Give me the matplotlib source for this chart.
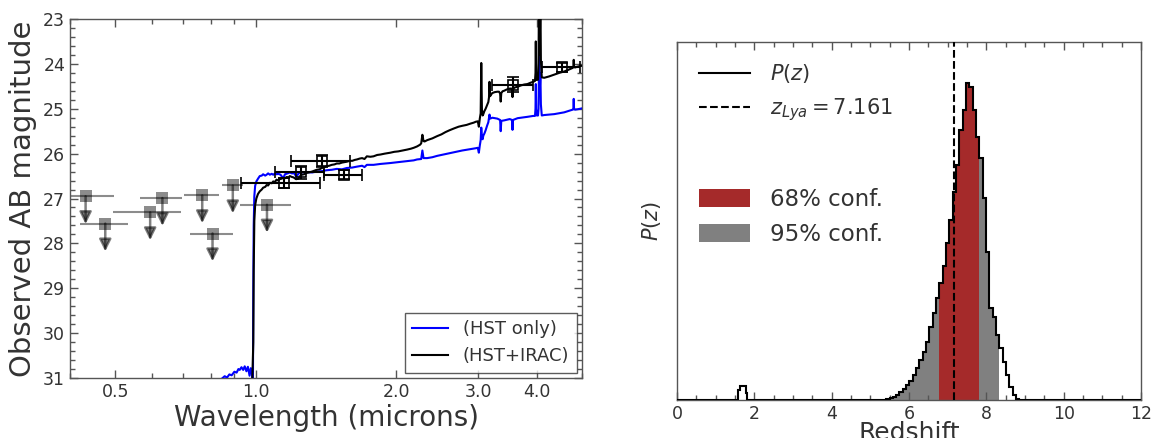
import matplotlib
matplotlib.use("Agg")
import matplotlib.pyplot as plt
from matplotlib.ticker import FixedLocator, FixedFormatter, LogLocator, NullFormatter, MultipleLocator, NullLocator
from matplotlib.lines import Line2D
from matplotlib.patches import Patch

plt.rcParams['font.family'] = ['DejaVu Sans']
plt.rcParams['mathtext.fontset'] = 'dejavusans'

TEXT = '#333333'
SPINE = '#555555'

# ---------------- SED panel ----------------
# best-fit template, HST photometry only (microns, AB mag)
hst_only_wave = [0.830, 0.845, 0.858, 0.868, 0.878, 0.888, 0.900, 0.910, 0.918, 0.924,
                 0.932, 0.940, 0.947, 0.955, 0.962, 0.970, 0.976, 0.982, 0.986, 0.988,
                 0.990, 0.993, 0.997, 1.003, 1.011, 1.020, 1.030, 1.037, 1.048, 1.055,
                 1.063, 1.072, 1.082, 1.090, 1.100, 1.108, 1.118, 1.130, 1.145, 1.155,
                 1.170, 1.183, 1.195, 1.210, 1.222, 1.235, 1.255, 1.285, 1.320, 1.351,
                 1.385, 1.419, 1.455, 1.491, 1.530, 1.567, 1.610, 1.647, 1.690, 1.710,
                 1.730, 1.788, 1.850, 1.941, 2.020, 2.110, 2.180, 2.216, 2.262, 2.275,
                 2.288, 2.329, 2.390, 2.447, 2.550, 2.657, 2.770, 2.886, 2.960, 2.990,
                 3.006, 3.020, 3.033, 3.042, 3.052, 3.063, 3.073, 3.090, 3.108, 3.130,
                 3.150, 3.168, 3.178, 3.213, 3.293, 3.338, 3.348, 3.358, 3.403, 3.500,
                 3.541, 3.549, 3.557, 3.640, 3.700, 3.820, 3.930, 3.965, 3.975, 3.981,
                 3.988, 4.000, 4.025, 4.035, 4.042, 4.050, 4.060, 4.072, 4.082, 4.100,
                 4.150, 4.250, 4.359, 4.470, 4.580, 4.680, 4.775, 4.792, 4.800, 4.808,
                 4.830, 4.900, 5.010]
hst_only_mag = [31.10, 31.02, 30.96, 30.99, 30.92, 30.94, 30.86, 30.88, 30.80, 30.82,
                30.76, 30.82, 30.74, 30.85, 30.75, 30.95, 30.78, 30.92, 31.40, 29.00,
                27.60, 26.95, 26.72, 26.62, 26.56, 26.50, 26.49, 26.46, 26.49, 26.47,
                26.44, 26.47, 26.45, 26.47, 26.44, 26.46, 26.45, 26.47, 26.55, 26.46,
                26.44, 26.42, 26.44, 26.44, 26.52, 26.44, 26.42, 26.41, 26.42, 26.40,
                26.39, 26.37, 26.36, 26.34, 26.35, 26.32, 26.31, 26.29, 26.27, 26.30,
                26.25, 26.25, 26.23, 26.21, 26.19, 26.17, 26.15, 26.13, 26.12, 25.93,
                26.10, 26.10, 26.08, 26.05, 26.01, 25.97, 25.93, 25.90, 25.88, 25.87,
                25.98, 25.82, 25.70, 25.42, 25.62, 25.68, 25.60, 25.55, 25.48, 25.38,
                25.30, 25.13, 25.22, 25.20, 25.22, 25.25, 25.50, 25.27, 25.26, 25.23,
                25.25, 25.47, 25.25, 25.21, 25.20, 25.18, 25.16, 25.16, 25.00, 24.45,
                25.00, 25.15, 25.15, 25.00, 24.30, 23.80, 24.60, 24.20, 24.90, 25.15,
                25.14, 25.13, 25.12, 25.10, 25.08, 25.05, 25.02, 25.01, 24.78, 25.01,
                25.02, 25.01, 24.99]

# best-fit template, HST + IRAC photometry
hst_irac_wave = [0.980, 0.988, 0.990, 0.993, 0.997, 1.003, 1.011, 1.020, 1.030, 1.037,
                 1.048, 1.055, 1.063, 1.072, 1.082, 1.090, 1.100, 1.108, 1.118, 1.125,
                 1.135, 1.145, 1.155, 1.165, 1.175, 1.183, 1.195, 1.205, 1.220, 1.233,
                 1.245, 1.255, 1.270, 1.285, 1.300, 1.320, 1.335, 1.351, 1.370, 1.385,
                 1.400, 1.419, 1.437, 1.455, 1.475, 1.491, 1.510, 1.530, 1.550, 1.567,
                 1.590, 1.610, 1.630, 1.647, 1.670, 1.690, 1.710, 1.730, 1.760, 1.788,
                 1.820, 1.850, 1.890, 1.941, 1.980, 2.020, 2.065, 2.110, 2.150, 2.180,
                 2.216, 2.250, 2.262, 2.275, 2.288, 2.300, 2.329, 2.390, 2.447, 2.500,
                 2.550, 2.600, 2.657, 2.720, 2.770, 2.830, 2.886, 2.930, 2.960, 2.990,
                 3.006, 3.020, 3.033, 3.042, 3.052, 3.063, 3.073, 3.090, 3.108, 3.130,
                 3.150, 3.160, 3.168, 3.178, 3.195, 3.213, 3.250, 3.293, 3.320, 3.338,
                 3.348, 3.358, 3.380, 3.403, 3.450, 3.500, 3.530, 3.541, 3.549, 3.557,
                 3.580, 3.640, 3.700, 3.760, 3.820, 3.880, 3.930, 3.965, 3.975, 3.981,
                 3.988, 4.000, 4.025, 4.035, 4.042, 4.050, 4.062, 4.072, 4.082, 4.100,
                 4.150, 4.250, 4.359, 4.470, 4.580, 4.680, 4.775, 4.792, 4.800, 4.808,
                 4.830, 4.900, 5.010]
hst_irac_mag = [31.60, 30.20, 28.60, 27.50, 27.15, 27.00, 26.90, 26.84, 26.80, 26.76,
                26.74, 26.70, 26.71, 26.65, 26.66, 26.62, 26.63, 26.58, 26.60, 26.57,
                26.56, 26.54, 26.55, 26.52, 26.53, 26.50, 26.52, 26.53, 26.57, 26.56,
                26.50, 26.47, 26.46, 26.43, 26.42, 26.40, 26.38, 26.36, 26.35, 26.32,
                26.31, 26.28, 26.27, 26.25, 26.24, 26.22, 26.22, 26.20, 26.19, 26.18,
                26.16, 26.16, 26.14, 26.13, 26.11, 26.10, 26.12, 26.06, 26.07, 26.06,
                26.03, 26.02, 26.00, 25.98, 25.96, 25.95, 25.93, 25.91, 25.89, 25.87,
                25.84, 25.80, 25.77, 25.58, 25.72, 25.73, 25.70, 25.66, 25.61, 25.57,
                25.52, 25.48, 25.44, 25.40, 25.38, 25.36, 25.33, 25.31, 25.29, 25.28,
                25.40, 25.22, 25.10, 23.98, 25.02, 25.15, 25.12, 25.05, 25.00, 24.92,
                24.85, 24.75, 24.40, 24.72, 24.68, 24.65, 24.63, 24.62, 24.62, 24.66,
                24.84, 24.65, 24.61, 24.60, 24.57, 24.55, 24.55, 24.60, 24.74, 24.58,
                24.53, 24.51, 24.48, 24.46, 24.45, 24.42, 24.40, 24.38, 24.20, 23.50,
                24.20, 24.36, 24.35, 24.00, 22.70, 23.80, 23.40, 22.40, 23.90, 24.30,
                24.31, 24.28, 24.24, 24.20, 24.17, 24.13, 24.09, 24.07, 23.91, 24.07,
                24.08, 24.06, 24.04]

# detections: WFC3/IR + IRAC
det_wave = [1.15, 1.25, 1.39, 1.545, 3.565, 4.53]
det_wave_err = [0.22, 0.15, 0.20, 0.145, 0.355, 0.43]
det_mag = [26.65, 26.42, 26.17, 26.47, 24.46, 24.08]
det_mag_err = [0.11, 0.14, 0.13, 0.10, 0.17, 0.09]

# non-detections (upper limits): ACS + F105W
lim_wave = [0.432, 0.476, 0.594, 0.631, 0.768, 0.808, 0.893, 1.057]
lim_wave_err = [0.065, 0.056, 0.099, 0.065, 0.067, 0.086, 0.046, 0.133]
lim_mag = [26.95, 27.56, 27.31, 26.99, 26.93, 27.78, 26.71, 27.14]
lim_arrow = 0.62

xticks_major = [0.5, 1.0, 2.0, 3.0, 4.0]
xtick_labels = ['0.5', '1.0', '2.0', '3.0', '4.0']

# ---------------- P(z) panel ----------------
pz_edges = [0.0, 1.586, 1.629, 1.780, 1.818,
            5.238, 5.324, 5.410, 5.496, 5.582, 5.668, 5.754, 5.840, 5.926, 6.012,
            6.098, 6.184, 6.270, 6.356, 6.442, 6.528, 6.614, 6.700, 6.786, 6.872,
            6.958, 7.044, 7.130, 7.216, 7.302, 7.388, 7.474, 7.560, 7.646, 7.732,
            7.818, 7.904, 7.990, 8.076, 8.162, 8.248, 8.334, 8.420, 8.506, 8.592,
            8.678, 8.764, 8.850, 12.0]
pz_values = [0, 31, 41, 20, 0,
             0.5, 1, 3, 5, 9, 15, 23, 32, 45, 58,
             75, 95, 120, 145, 175, 220, 260, 305, 350, 402,
             470, 540, 625, 705, 810, 870, 950, 938, 870, 790,
             725, 605, 445, 275, 250, 195, 155, 115, 75, 40,
             15, 2, 0]
conf68 = (6.786, 7.818)
conf95 = (5.410, 8.334)
z_lya = 7.161

fig = plt.figure(figsize=(11.56, 4.38), dpi=100)
W, H = 1156.0, 438.0
ax1 = fig.add_axes([70 / W, 60 / H, 512 / W, 359 / H])
ax2 = fig.add_axes([677 / W, 38 / H, 464 / W, 358 / H])

# ---- SED panel ----
ax1.plot(hst_only_wave, hst_only_mag, color='blue', lw=1.5, zorder=3, label='(HST only)')
ax1.plot(hst_irac_wave, hst_irac_mag, color='black', lw=1.5, zorder=4, label='(HST+IRAC)')

ax1.errorbar(lim_wave, lim_mag, xerr=lim_wave_err, fmt='s', color='k', alpha=0.45,
             ms=8.5, mew=0, capsize=4, elinewidth=1.5, capthick=1.5, zorder=2)
for w, m in zip(lim_wave, lim_mag):
    ax1.annotate('', xy=(w, m + lim_arrow), xytext=(w, m),
                 arrowprops=dict(arrowstyle='-|>', color='k', alpha=0.5, lw=1.8,
                                 mutation_scale=18, shrinkA=0, shrinkB=0), zorder=2)

ax1.errorbar(det_wave, det_mag, xerr=det_wave_err, yerr=det_mag_err, fmt='s',
             mfc='none', mec='k', color='k', ms=7, mew=1.2, capsize=4,
             elinewidth=1.5, capthick=1.2, zorder=5)

ax1.set_xscale('log')
ax1.set_xlim(0.4, 5.0)
ax1.set_ylim(31, 23)
ax1.xaxis.set_major_locator(FixedLocator(xticks_major))
ax1.xaxis.set_major_formatter(FixedFormatter(xtick_labels))
ax1.xaxis.set_minor_locator(LogLocator(base=10, subs=range(2, 10)))
ax1.xaxis.set_minor_formatter(NullFormatter())
ax1.yaxis.set_major_locator(MultipleLocator(1))
ax1.yaxis.set_minor_locator(MultipleLocator(0.2))
ax1.set_xlabel('Wavelength (microns)', fontsize=20, color=TEXT, labelpad=2)
ax1.set_ylabel('Observed AB magnitude', fontsize=21, color=TEXT, labelpad=4)
leg1 = ax1.legend(loc='lower right', fontsize=13, frameon=True, fancybox=False,
                  borderaxespad=0.3, handlelength=2.0)
leg1.get_frame().set_edgecolor('#333333')
leg1.get_frame().set_linewidth(1.0)
for t in leg1.get_texts():
    t.set_color(TEXT)

# ---- P(z) panel ----
n = len(pz_values)
gray_idx = [i for i in range(n) if pz_edges[i] >= conf95[0] - 1e-9 and pz_edges[i + 1] <= conf95[1] + 1e-9]
red_idx = [i for i in range(n) if pz_edges[i] >= conf68[0] - 1e-9 and pz_edges[i + 1] <= conf68[1] + 1e-9]
ax2.stairs([pz_values[i] for i in gray_idx], pz_edges[gray_idx[0]:gray_idx[-1] + 2],
           fill=True, color='gray', lw=0, zorder=1)
ax2.stairs([pz_values[i] for i in red_idx], pz_edges[red_idx[0]:red_idx[-1] + 2],
           fill=True, color='brown', lw=0, zorder=2)
ax2.axvline(z_lya, color='k', ls='--', lw=1.5, zorder=3)
ax2.stairs(pz_values, pz_edges, color='k', lw=1.5, zorder=4, baseline=0)

ax2.set_xlim(0, 12)
ax2.set_ylim(0, 1074)
ax2.xaxis.set_major_locator(MultipleLocator(2))
ax2.xaxis.set_minor_locator(MultipleLocator(0.5))
ax2.yaxis.set_major_locator(NullLocator())
ax2.set_xlabel('Redshift', fontsize=18, color=TEXT, labelpad=-1)
ax2.set_ylabel('$P(z)$', fontsize=15, color=TEXT, labelpad=10)

h_line = [Line2D([], [], color='k', lw=1.5), Line2D([], [], color='k', lw=1.5, ls='--')]
lg_a = ax2.legend(h_line, ['$P(z)$', r'$z_{Lya} = 7.161$'], loc='upper left',
                  bbox_to_anchor=(0.047, 0.944), borderaxespad=0, borderpad=0,
                  frameon=False, fontsize=15, handlelength=2.45, handletextpad=0.96,
                  labelspacing=0.55)
for t in lg_a.get_texts():
    t.set_color(TEXT)
ax2.add_artist(lg_a)
h_patch = [Patch(facecolor='brown', edgecolor='none'), Patch(facecolor='gray', edgecolor='none')]
lg_b = ax2.legend(h_patch, ['68% conf.', '95% conf.'], loc='upper left',
                  bbox_to_anchor=(0.047, 0.592), borderaxespad=0, borderpad=0,
                  frameon=False, fontsize=16.5, handlelength=2.23, handleheight=0.83,
                  handletextpad=0.87, labelspacing=0.5)
for t in lg_b.get_texts():
    t.set_color(TEXT)

for ax in (ax1, ax2):
    for s in ax.spines.values():
        s.set_color(SPINE)
        s.set_linewidth(1.0)
    ax.tick_params(which='both', direction='in', top=True, right=(ax is ax1),
                   colors=SPINE, labelcolor=TEXT, labelsize=12.5)
    ax.tick_params(which='major', length=6, width=1)
    ax.tick_params(which='minor', length=3.5, width=1)
ax2.tick_params(axis='y', which='both', left=False, right=False)

fig.savefig('out.png', dpi=100)
